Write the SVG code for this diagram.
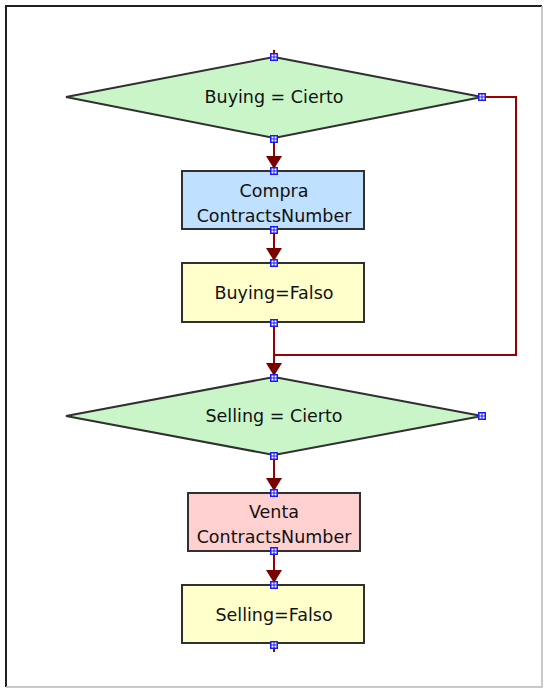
<svg xmlns="http://www.w3.org/2000/svg" width="545" height="689" viewBox="0 0 545 689">
<style>
.shape{stroke:#303030;stroke-width:2}
.dec{fill:#c9f5c9}
.blue{fill:#bfe0ff}
.yel{fill:#ffffcc}
.pink{fill:#ffd0d0}
.lbl{font-family:"DejaVu Sans","Liberation Sans",sans-serif;font-size:17.5px;fill:#111;text-anchor:middle}
.con{fill:none;stroke:#990000;stroke-width:2}
.ah{fill:#7a0000}
</style>
<defs>
<g id="h">
<rect x="-4" y="-4" width="8" height="8" fill="#1a1aff"/>
<rect x="-2.5" y="-2.5" width="2" height="2" fill="#fff"/>
<rect x="0.5" y="-2.5" width="2" height="2" fill="#fff"/>
<rect x="-2.5" y="0.5" width="2" height="2" fill="#fff"/>
<rect x="0.5" y="0.5" width="2" height="2" fill="#fff"/>
</g>
</defs>
<rect x="0" y="0" width="545" height="689" fill="#fff"/>
<path d="M6,687 L6,6 L542,6" fill="none" stroke="#202020" stroke-width="2"/>
<path d="M542,6 L542,687 L6,687" fill="none" stroke="#b8b8b8" stroke-width="1.5"/>
<g id="connectors">
<path class="con" d="M274,50 L274,55"/>
<path class="con" d="M274,141 L274,169"/>
<path class="con" d="M274,232 L274,261"/>
<path class="con" d="M274,325 L274,376"/>
<path class="con" d="M485,97 L516,97 L516,355 L274,355"/>
<path class="con" d="M274,458 L274,491"/>
<path class="con" d="M274,554 L274,583"/>
<path class="con" d="M274,648 L274,652"/>
<polygon class="ah" points="266,156 282,156 274,169"/>
<polygon class="ah" points="266,248 282,248 274,261"/>
<polygon class="ah" points="266,363 282,363 274,376"/>
<polygon class="ah" points="266,478 282,478 274,491"/>
<polygon class="ah" points="266,570 282,570 274,583"/>
</g>
<g id="n1">
<polygon class="shape dec" points="274,57 482,97 274,138 66,97"/>
<text class="lbl" x="274" y="103">Buying = Cierto</text>
</g>
<g id="n2">
<rect class="shape blue" x="182" y="171" width="182" height="58"/>
<text class="lbl" x="274" y="197">Compra</text>
<text class="lbl" x="274" y="222">ContractsNumber</text>
</g>
<g id="n3">
<rect class="shape yel" x="182" y="263" width="182" height="59"/>
<text class="lbl" x="274" y="299">Buying=Falso</text>
</g>
<g id="n4">
<polygon class="shape dec" points="274,377 482,416 274,455 66,416"/>
<text class="lbl" x="274" y="422">Selling = Cierto</text>
</g>
<g id="n5">
<rect class="shape pink" x="188" y="493" width="172" height="58"/>
<text class="lbl" x="274" y="518">Venta</text>
<text class="lbl" x="274" y="543">ContractsNumber</text>
</g>
<g id="n6">
<rect class="shape yel" x="182" y="585" width="182" height="58"/>
<text class="lbl" x="274" y="621">Selling=Falso</text>
</g>
<g id="handles">
<use href="#h" x="274" y="57"/>
<use href="#h" x="482" y="97"/>
<use href="#h" x="274" y="139"/>
<use href="#h" x="274" y="171"/>
<use href="#h" x="274" y="230"/>
<use href="#h" x="274" y="263"/>
<use href="#h" x="274" y="323"/>
<use href="#h" x="274" y="378"/>
<use href="#h" x="482" y="416"/>
<use href="#h" x="274" y="456"/>
<use href="#h" x="274" y="493"/>
<use href="#h" x="274" y="551"/>
<use href="#h" x="274" y="585"/>
<use href="#h" x="274" y="645"/>
</g>
</svg>
